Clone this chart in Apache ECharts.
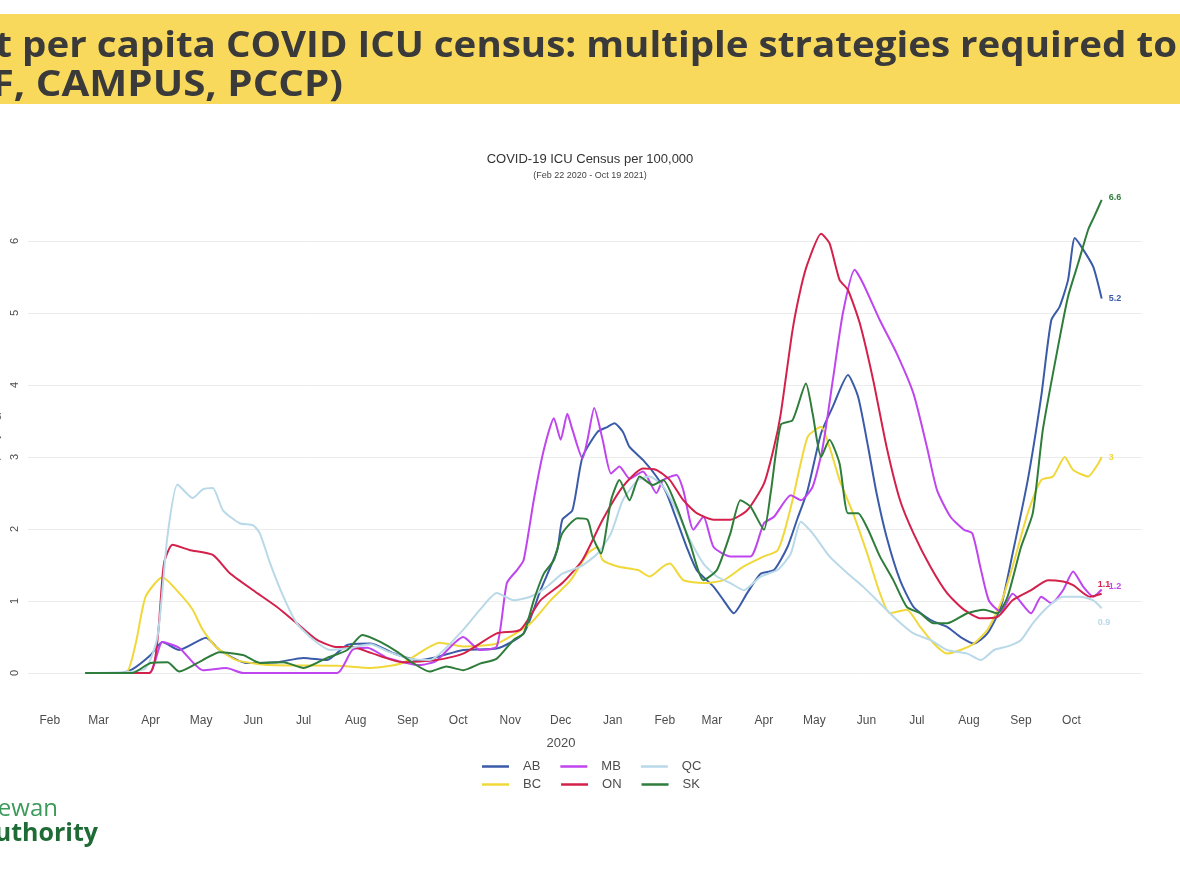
<!DOCTYPE html>
<html>
<head>
<meta charset="utf-8">
<script src="https://cdn.jsdelivr.net/npm/echarts@6.0.0/dist/echarts.min.js"></script>
<style>
html,body{margin:0;padding:0;background:#fff;}
#chart{width:1180px;height:885px;}
</style>
</head>
<body>
<div id="chart"></div>
<script>
// ---- Data ----
const seriesNames = ['AB', 'BC', 'MB', 'ON', 'QC', 'SK'];
const monthTickDates = ['2020-02-01','2020-03-01','2020-04-01','2020-05-01','2020-06-01','2020-07-01','2020-08-01','2020-09-01','2020-10-01','2020-11-01','2020-12-01','2021-01-01','2021-02-01','2021-03-01','2021-04-01','2021-05-01','2021-06-01','2021-07-01','2021-08-01','2021-09-01','2021-10-01'];
const monthTickLabels = ['Feb','Mar','Apr','May','Jun','Jul','Aug','Sep','Oct','Nov','Dec','Jan','Feb','Mar','Apr','May','Jun','Jul','Aug','Sep','Oct'];
const yTickValues = [0, 1, 2, 3, 4, 5, 6];

const abData = [['2020-02-22',0],['2020-03-14',0],['2020-03-21',0.05],['2020-04-01',0.25],['2020-04-08',0.43],['2020-04-18',0.32],['2020-05-04',0.49],['2020-05-12',0.32],['2020-05-28',0.14],['2020-06-15',0.15],['2020-07-01',0.21],['2020-07-15',0.18],['2020-07-27',0.39],['2020-08-10',0.41],['2020-08-23',0.28],['2020-09-07',0.18],['2020-09-18',0.22],['2020-10-04',0.32],['2020-10-24',0.34],['2020-11-09',0.55],['2020-11-19',1.15],['2020-11-29',1.71],['2020-12-02',2.13],['2020-12-08',2.26],['2020-12-14',3.0],['2020-12-23',3.35],['2020-12-29',3.42],['2021-01-02',3.47],['2021-01-07',3.35],['2021-01-11',3.14],['2021-01-19',2.96],['2021-01-27',2.73],['2021-02-02',2.5],['2021-02-08',2.13],['2021-02-14',1.75],['2021-02-20',1.43],['2021-03-02',1.2],['2021-03-08',1.01],['2021-03-14',0.83],['2021-03-22',1.11],['2021-03-30',1.38],['2021-04-07',1.43],['2021-04-15',1.75],['2021-04-21',2.15],['2021-04-27',2.54],['2021-05-05',3.33],['2021-05-12',3.7],['2021-05-21',4.14],['2021-05-27',3.84],['2021-06-02',3.14],['2021-06-07',2.5],['2021-06-13',1.89],['2021-06-21',1.29],['2021-06-29',0.92],['2021-07-09',0.74],['2021-07-19',0.64],['2021-07-27',0.5],['2021-08-04',0.41],['2021-08-12',0.55],['2021-08-20',0.92],['2021-08-27',1.66],['2021-09-05',2.68],['2021-09-13',3.84],['2021-09-19',4.9],['2021-09-24',5.09],['2021-09-29',5.46],['2021-10-03',6.04],['2021-10-08',5.88],['2021-10-14',5.64],['2021-10-19',5.2]];

const bcData = [['2020-02-22',0],['2020-03-17',0],['2020-03-23',0.4],['2020-03-29',1.06],['2020-04-08',1.33],['2020-04-18',1.11],['2020-04-26',0.88],['2020-05-02',0.6],['2020-05-10',0.36],['2020-05-22',0.18],['2020-06-11',0.11],['2020-07-21',0.1],['2020-08-10',0.07],['2020-08-29',0.14],['2020-09-20',0.42],['2020-10-04',0.37],['2020-10-24',0.41],['2020-11-13',0.69],['2020-11-25',1.01],['2020-12-07',1.29],['2020-12-17',1.66],['2020-12-23',1.75],['2020-12-26',1.57],['2021-01-04',1.48],['2021-01-16',1.43],['2021-01-23',1.34],['2021-01-31',1.48],['2021-02-04',1.52],['2021-02-12',1.29],['2021-02-24',1.25],['2021-03-08',1.29],['2021-03-20',1.48],['2021-04-01',1.62],['2021-04-09',1.7],['2021-04-13',1.95],['2021-04-18',2.4],['2021-04-27',3.28],['2021-05-05',3.42],['2021-05-10',3.14],['2021-05-16',2.68],['2021-05-24',2.22],['2021-06-02',1.62],['2021-06-09',1.11],['2021-06-15',0.83],['2021-06-25',0.88],['2021-07-03',0.64],['2021-07-11',0.41],['2021-07-19',0.27],['2021-07-27',0.32],['2021-08-04',0.41],['2021-08-12',0.6],['2021-08-20',0.97],['2021-08-27',1.48],['2021-09-05',2.22],['2021-09-13',2.68],['2021-09-20',2.73],['2021-09-27',3.0],['2021-10-02',2.82],['2021-10-11',2.73],['2021-10-17',2.91],['2021-10-19',3.0]];

const mbData = [['2020-02-22',0],['2020-03-31',0],['2020-04-08',0.43],['2020-04-18',0.35],['2020-05-02',0.04],['2020-05-16',0.07],['2020-05-26',0],['2020-07-21',0],['2020-07-30',0.32],['2020-08-08',0.35],['2020-08-20',0.21],['2020-09-08',0.11],['2020-09-18',0.17],['2020-10-04',0.5],['2020-10-14',0.32],['2020-10-24',0.37],['2020-10-30',1.25],['2020-11-05',1.43],['2020-11-09',1.57],['2020-11-15',2.4],['2020-11-21',3.1],['2020-11-27',3.54],['2020-12-01',3.24],['2020-12-05',3.6],['2020-12-08',3.38],['2020-12-14',2.98],['2020-12-17',3.24],['2020-12-21',3.68],['2020-12-26',3.24],['2020-12-31',2.77],['2021-01-05',2.87],['2021-01-11',2.7],['2021-01-19',2.8],['2021-01-27',2.5],['2021-01-31',2.68],['2021-02-08',2.75],['2021-02-12',2.54],['2021-02-18',1.99],['2021-02-24',2.17],['2021-03-02',1.75],['2021-03-12',1.62],['2021-03-24',1.62],['2021-04-01',2.08],['2021-04-07',2.17],['2021-04-17',2.47],['2021-04-23',2.4],['2021-04-30',2.59],['2021-05-06',3.14],['2021-05-12',4.07],['2021-05-18',5.0],['2021-05-25',5.6],['2021-05-30',5.41],['2021-06-09',4.9],['2021-06-19',4.44],['2021-06-29',3.88],['2021-07-07',3.14],['2021-07-13',2.54],['2021-07-21',2.17],['2021-07-29',1.99],['2021-08-03',1.94],['2021-08-08',1.45],['2021-08-13',1.0],['2021-08-20',0.85],['2021-08-27',1.1],['2021-09-07',0.83],['2021-09-13',1.06],['2021-09-19',0.97],['2021-09-26',1.15],['2021-10-02',1.41],['2021-10-08',1.2],['2021-10-14',1.06],['2021-10-19',1.16]];

const onData = [['2020-02-22',0],['2020-03-31',0],['2020-04-09',1.53],['2020-04-14',1.78],['2020-04-24',1.71],['2020-05-08',1.64],['2020-05-18',1.39],['2020-06-01',1.15],['2020-06-15',0.92],['2020-06-27',0.69],['2020-07-09',0.46],['2020-07-21',0.36],['2020-07-30',0.36],['2020-08-10',0.28],['2020-08-29',0.15],['2020-09-18',0.18],['2020-10-04',0.27],['2020-10-24',0.55],['2020-11-07',0.6],['2020-11-19',1.01],['2020-12-02',1.25],['2020-12-14',1.57],['2020-12-26',2.13],['2021-01-07',2.59],['2021-01-19',2.84],['2021-01-27',2.82],['2021-02-04',2.68],['2021-02-12',2.4],['2021-02-20',2.22],['2021-03-02',2.13],['2021-03-12',2.13],['2021-03-22',2.26],['2021-04-01',2.63],['2021-04-07',3.14],['2021-04-11',3.6],['2021-04-18',4.76],['2021-04-23',5.35],['2021-04-27',5.69],['2021-05-05',6.1],['2021-05-10',5.97],['2021-05-16',5.46],['2021-05-21',5.32],['2021-05-28',4.86],['2021-06-05',4.07],['2021-06-13',3.14],['2021-06-21',2.4],['2021-06-29',1.94],['2021-07-09',1.48],['2021-07-19',1.11],['2021-07-29',0.88],['2021-08-08',0.76],['2021-08-18',0.78],['2021-08-27',1.01],['2021-09-07',1.15],['2021-09-17',1.29],['2021-09-26',1.27],['2021-10-02',1.22],['2021-10-12',1.06],['2021-10-19',1.1]];

const qcData = [['2020-02-22',0],['2020-03-28',0.05],['2020-04-05',0.5],['2020-04-11',1.9],['2020-04-17',2.62],['2020-04-26',2.43],['2020-05-02',2.55],['2020-05-08',2.57],['2020-05-14',2.26],['2020-05-24',2.08],['2020-06-01',2.05],['2020-06-05',1.94],['2020-06-11',1.53],['2020-06-19',1.06],['2020-06-27',0.69],['2020-07-07',0.46],['2020-07-17',0.32],['2020-07-29',0.35],['2020-08-10',0.4],['2020-08-20',0.3],['2020-09-02',0.2],['2020-09-14',0.18],['2020-10-04',0.6],['2020-10-14',0.88],['2020-10-24',1.11],['2020-11-03',1.01],['2020-11-13',1.06],['2020-11-23',1.2],['2020-12-02',1.38],['2020-12-13',1.48],['2020-12-23',1.66],['2020-12-31',1.94],['2021-01-07',2.4],['2021-01-16',2.68],['2021-01-23',2.73],['2021-01-31',2.59],['2021-02-08',2.26],['2021-02-16',1.85],['2021-02-24',1.52],['2021-03-04',1.34],['2021-03-12',1.25],['2021-03-20',1.15],['2021-03-30',1.34],['2021-04-09',1.43],['2021-04-17',1.66],['2021-04-23',2.1],['2021-04-30',1.94],['2021-05-10',1.62],['2021-05-21',1.38],['2021-05-30',1.2],['2021-06-09',0.97],['2021-06-19',0.74],['2021-06-29',0.55],['2021-07-09',0.46],['2021-07-19',0.32],['2021-07-31',0.27],['2021-08-08',0.18],['2021-08-16',0.32],['2021-08-24',0.37],['2021-09-01',0.46],['2021-09-08',0.69],['2021-09-17',0.92],['2021-09-26',1.06],['2021-10-06',1.06],['2021-10-14',1.01],['2021-10-19',0.9]];

const skData = [['2020-02-22',0],['2020-03-21',0],['2020-04-01',0.14],['2020-04-11',0.15],['2020-04-18',0.02],['2020-05-02',0.18],['2020-05-12',0.29],['2020-05-26',0.25],['2020-06-05',0.14],['2020-06-19',0.15],['2020-07-01',0.07],['2020-07-15',0.21],['2020-07-27',0.32],['2020-08-05',0.53],['2020-08-16',0.43],['2020-08-26',0.29],['2020-09-04',0.14],['2020-09-14',0.02],['2020-09-24',0.09],['2020-10-04',0.04],['2020-10-14',0.13],['2020-10-24',0.2],['2020-11-03',0.46],['2020-11-09',0.55],['2020-11-15',1.01],['2020-11-21',1.38],['2020-11-27',1.57],['2020-12-02',1.94],['2020-12-11',2.15],['2020-12-17',2.13],['2020-12-20',1.89],['2020-12-25',1.66],['2020-12-31',2.4],['2021-01-05',2.68],['2021-01-11',2.4],['2021-01-17',2.73],['2021-01-25',2.61],['2021-01-31',2.68],['2021-02-08',2.31],['2021-02-16',1.8],['2021-02-24',1.29],['2021-03-04',1.43],['2021-03-12',1.94],['2021-03-18',2.4],['2021-03-24',2.31],['2021-04-01',1.99],['2021-04-05',2.5],['2021-04-11',3.45],['2021-04-18',3.51],['2021-04-26',4.02],['2021-04-30',3.6],['2021-05-05',3.0],['2021-05-10',3.24],['2021-05-16',2.91],['2021-05-21',2.22],['2021-05-27',2.22],['2021-06-02',1.99],['2021-06-09',1.62],['2021-06-17',1.29],['2021-06-25',0.92],['2021-07-03',0.83],['2021-07-11',0.69],['2021-07-19',0.69],['2021-07-31',0.83],['2021-08-10',0.88],['2021-08-18',0.83],['2021-08-24',1.06],['2021-09-01',1.75],['2021-09-08',2.22],['2021-09-14',3.38],['2021-09-23',4.53],['2021-09-29',5.23],['2021-10-05',5.69],['2021-10-11',6.16],['2021-10-14',6.31],['2021-10-19',6.57]];

// ---- Build chart ----
const ts = d => Date.parse(d);
const toSeriesData = arr => arr.map(p => [ts(p[0]), p[1]]);
const monthTickTs = monthTickDates.map(ts);

const colors = {AB:'#3b5ba9', BC:'#f0d83a', MB:'#bf45ee', ON:'#d3214b', QC:'#b9d9e8', SK:'#2f7d3b'};
const dataByName = {AB:abData, BC:bcData, MB:mbData, ON:onData, QC:qcData, SK:skData};
const labelOffsets = {AB:[2,0], BC:[2,0], MB:[2,-3], ON:[-9,-9], QC:[-9,14], SK:[2,-2]};

const chart = echarts.init(document.getElementById('chart'), null, {renderer:'canvas'});
const FONT = '"Liberation Sans", Arial, sans-serif';

const option = {
  animation: false,
  backgroundColor: '#ffffff',
  textStyle: {fontFamily: FONT},
  title: {
    text: 'COVID-19 ICU Census per 100,000',
    subtext: '(Feb 22 2020 - Oct 19 2021)',
    left: 'center',
    top: 148,
    itemGap: 5,
    textStyle: {fontSize: 13, fontWeight: 'normal', color: '#333333', fontFamily: FONT},
    subtextStyle: {fontSize: 9, color: '#444444', fontFamily: FONT}
  },
  legend: [
    {data: ['AB','MB','QC'], left: 477, top: 755, icon: 'rect', itemWidth: 27, itemHeight: 2.5, itemGap: 20,
     textStyle: {fontSize: 13, color: '#4d4d4d', padding: [0,0,0,9]}},
    {data: ['BC','ON','SK'], left: 477, top: 773, icon: 'rect', itemWidth: 27, itemHeight: 2.5, itemGap: 20,
     textStyle: {fontSize: 13, color: '#4d4d4d', padding: [0,0,0,9]}}
  ],
  grid: {left: 28, right: 38, top: 176.2, bottom: 188.2, containLabel: false, outerBoundsMode: 'none'},
  xAxis: {
    type: 'value',
    min: ts('2020-01-19'),
    max: ts('2021-11-12'),
    axisLine: {show: false},
    axisTick: {show: false},
    splitLine: {show: false},
    axisLabel: {
      customValues: monthTickTs,
      formatter: v => monthTickLabels[monthTickTs.indexOf(v)] || '',
      fontSize: 12, color: '#4d4d4d', margin: 18
    }
  },
  yAxis: {
    type: 'value',
    min: -0.33,
    max: 6.9,
    name: '(7-day avg)',
    nameLocation: 'middle',
    nameGap: 22,
    nameRotate: 90,
    nameTextStyle: {fontSize: 10, color: '#4d4d4d'},
    axisLine: {show: false},
    axisTick: {show: false, customValues: yTickValues},
    splitLine: {show: true, lineStyle: {color: '#ececec', width: 1}},
    axisLabel: {customValues: yTickValues, rotate: 90, fontSize: 11, color: '#4d4d4d', margin: 8}
  },
  series: seriesNames.map(n => ({
    name: n,
    type: 'line',
    data: toSeriesData(dataByName[n]),
    showSymbol: false,
    smooth: 0.2,
    color: colors[n],
    lineStyle: {width: 2, color: colors[n]},
    endLabel: {
      show: true,
      formatter: p => String(+p.value[1].toFixed(1)),
      color: colors[n],
      fontSize: 9,
      fontWeight: 'bold',
      distance: 5,
      offset: labelOffsets[n]
    }
  })),
  graphic: [
    {type: 'rect', z: -10, shape: {x: 0, y: 14, width: 1180, height: 90}, style: {fill: '#f9d95c'}},
    {type: 'text', x: 1177, y: 47, scaleX: 1.07, style: {text: 't per capita COVID ICU census: multiple strategies required to', fill: '#3a3a3a', font: 'bold 36px "Open Sans", sans-serif', textAlign: 'right', textVerticalAlign: 'middle'}},
    {type: 'text', x: 343, y: 86, scaleX: 1.12, style: {text: '(HCF, CAMPUS, PCCP)', fill: '#3a3a3a', font: 'bold 36px "Open Sans", sans-serif', textAlign: 'right', textVerticalAlign: 'middle'}},
    {type: 'text', x: 561, y: 743, style: {text: '2020', fill: '#4d4d4d', font: '13px "Liberation Sans", Arial, sans-serif', textAlign: 'center', textVerticalAlign: 'middle'}},
    {type: 'text', x: 58, y: 809, style: {text: 'Saskatchewan', fill: '#3c9a5a', font: '24px "Open Sans", sans-serif', textAlign: 'right', textVerticalAlign: 'middle'}},
    {type: 'text', x: 98, y: 834, style: {text: 'Health Authority', fill: '#1f6b36', font: 'bold 25px "Open Sans", sans-serif', textAlign: 'right', textVerticalAlign: 'middle'}}
  ]
};
chart.setOption(option);
</script>
</body>
</html>
